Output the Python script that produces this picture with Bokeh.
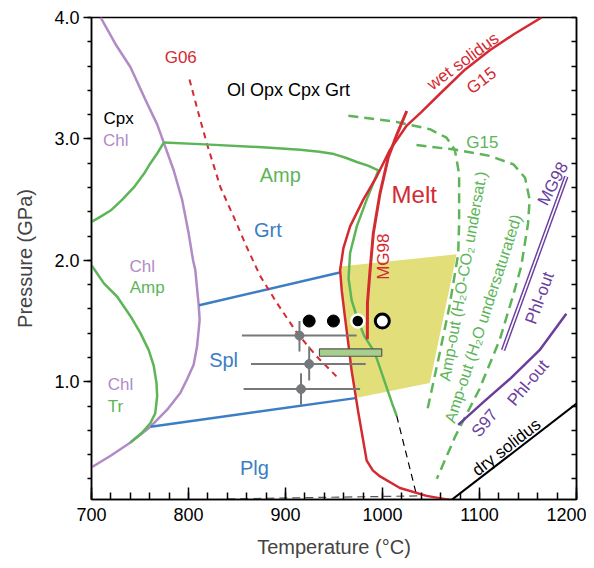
import math
from bokeh.plotting import figure
from bokeh.models import LinearAxis, FixedTicker, Range1d, PrintfTickFormatter
from bokeh.core.properties import value
from bokeh.embed import file_html
from bokeh.resources import INLINE

FONT = "Liberation Sans"
RED = "#d42a31"
GREEN = "#5db558"
BLUE = "#3b7ec3"
LPURP = "#b18bc6"
DPURP = "#6b3e9e"
GRAY = "#76797b"
YELLOW = "#e2df7b"
RECTFILL = "#a6cf8c"

# ---------------- ticks ----------------
x_major = [700, 800, 900, 1000, 1100, 1200]
x_minor = list(range(700, 1201, 20))
y_major = [1.0, 2.0, 3.0, 4.0]
y_minor = [round(0.2 * i, 1) for i in range(1, 21)]

# ---------------- curves (T in C, P in GPa) ----------------
chl_T = [709.4, 724.8, 740.2, 755.7, 767.7, 774.5, 784.8, 793.4, 800.2, 804.7, 807, 810.5, 811.5,
         808.8, 805.3, 798.5, 791.7, 778, 760.8, 740.2, 719.7, 699]
chl_P = [4.0, 3.78, 3.59, 3.32, 3.12, 2.97, 2.74, 2.50, 2.22, 2.0, 1.92, 1.63, 1.51,
         1.29, 1.14, 1.02, 0.91, 0.77, 0.63, 0.50, 0.39, 0.29]

cpxchl_T = [700, 709.4, 719.7, 731.7, 743.6, 753.9, 760.8, 767.7, 774.5]
cpxchl_P = [2.317, 2.36, 2.41, 2.50, 2.60, 2.71, 2.80, 2.88, 2.97]

chltr_T = [700, 712.8, 726.5, 740.2, 750.5, 759, 764.2, 767, 767.7, 765.7, 760.8, 752, 740]
chltr_P = [1.96, 1.81, 1.70, 1.54, 1.40, 1.26, 1.13, 0.99, 0.88, 0.74, 0.66, 0.58, 0.50]

amp_T = [774.5, 817, 880, 915, 935, 950, 962, 973.5, 985, 995.7, 983.7, 973.5, 966.6, 965, 968.2,
         975, 981, 992, 1004, 1010, 1014.6]
amp_P = [2.97, 2.955, 2.93, 2.91, 2.895, 2.875, 2.845, 2.81, 2.78, 2.74, 2.50, 2.28, 2.06, 1.85, 1.67,
         1.50, 1.38, 1.24, 0.96, 0.82, 0.72]

ampdash_T = [1014.6, 1035]
ampdash_P = [0.72, 0.07]

g06_T = [801, 810, 819, 833, 846.5, 860, 874, 891, 912, 932, 953]
g06_P = [3.49, 3.22, 2.96, 2.60, 2.36, 2.11, 1.87, 1.65, 1.40, 1.21, 1.04]

grtspl_T = [811, 956]
grtspl_P = [1.63, 1.90]
splplg_T = [761, 972]
splplg_P = [0.63, 0.865]

wet_T = [1164, 1135, 1110.6, 1085, 1059, 1040, 1025, 1007.7, 994, 980.2, 966.6, 959.7, 956.3,
         958, 961, 965, 968, 972, 975, 980, 983.7, 990, 997.5, 1018, 1045.5, 1071]
wet_P = [4.0, 3.86, 3.73, 3.57, 3.37, 3.22, 3.11, 2.91, 2.69, 2.50, 2.28, 2.10, 1.92,
         1.75, 1.55, 1.30, 1.10, 0.90, 0.75, 0.52, 0.35, 0.27, 0.22, 0.125, 0.06, 0.025]

mg98_T = [1025, 1015, 1006, 997.4, 990.5, 987, 984.5, 984.4]
mg98_P = [3.23, 3.04, 2.85, 2.55, 2.22, 1.90, 1.65, 1.35]

outer_T = [964.8, 1014.6, 1048.8, 1066, 1074.6, 1079, 1079, 1079, 1078, 1069, 1058, 1045.5]
outer_P = [3.19, 3.14, 3.08, 3.01, 2.91, 2.71, 2.50, 2.30, 2.05, 1.62, 1.20, 0.74]

inner_T = [1035, 1076, 1110.6, 1135, 1147, 1151.7, 1150, 1143, 1135, 1121, 1100, 1075, 1056]
inner_P = [2.95, 2.91, 2.86, 2.79, 2.68, 2.50, 2.30, 1.95, 1.72, 1.35, 0.94, 0.55, 0.20]

phl_mg98_T = [1189.5, 1124.3]
phl_mg98_P = [2.69, 1.26]

s97_T = [1078, 1103.7, 1131, 1161.9, 1189.5]
s97_P = [0.645, 0.83, 1.02, 1.26, 1.56]

dry_T = [1071, 1200]
dry_P = [0.025, 0.82]

base_T = [840, 1040]
base_P = [0.035, 0.06]

yellow_T = [956.3, 1076.4, 1048.8, 975, 972, 968, 965, 961, 958]
yellow_P = [1.95, 2.05, 0.99, 0.87, 0.90, 1.10, 1.30, 1.55, 1.75]

# experiments
dots_T = [924.4, 949.4]
dots_P = [1.50, 1.50]
ring_T = [974.5]
ring_P = [1.50]
open_T = [999.8]
open_P = [1.50]

eb_T = [914.4, 924.4, 916.0]
eb_P = [1.38, 1.146, 0.94]
eb_Tmin = [855, 864.4, 856.8]
eb_Tmax = [973.4, 982.7, 976.9]
eb_Pmin = [1.25, 1.01, 0.81]
eb_Pmax = [1.50, 1.29, 1.07]

rect_T = [935, 999.2]
rect_P = [1.21, 1.27]

# ---------------- figure ----------------
p = figure(width=586, height=560, x_range=Range1d(700, 1200), y_range=Range1d(0.03, 4.0),
           output_backend="svg", toolbar_location=None,
           min_border_left=91, min_border_right=10, min_border_top=17, min_border_bottom=60,
           x_axis_label="Temperature (°C)", y_axis_label="Pressure (GPa)")
p.grid.visible = False
p.outline_line_color = "black"
p.outline_line_width = 1.5
p.background_fill_color = "white"
p.border_fill_color = "white"

xa = p.xaxis[0]
xa.ticker = FixedTicker(ticks=x_major, minor_ticks=x_minor)
xa.major_tick_in = 12
xa.major_tick_out = 0
xa.minor_tick_in = 7
xa.minor_tick_out = 0
xa.major_tick_line_width = 1.5
xa.minor_tick_line_width = 1.5
xa.axis_line_width = 1.5
xa.major_label_standoff = 8
xa.major_label_text_font = FONT
xa.major_label_text_font_size = "18px"
xa.major_label_text_color = "black"
xa.axis_label_text_font = FONT
xa.axis_label_text_font_size = "20px"
xa.axis_label_text_font_style = "normal"
xa.axis_label_standoff = 12

ya = p.yaxis[0]
ya.ticker = FixedTicker(ticks=y_major, minor_ticks=y_minor)
ya.formatter = PrintfTickFormatter(format="%.1f")
ya.major_tick_in = 0
ya.major_tick_out = 8
ya.minor_tick_in = 0
ya.minor_tick_out = 4
ya.major_tick_line_width = 1.5
ya.minor_tick_line_width = 1.5
ya.axis_line_width = 1.5
ya.major_label_standoff = 4
ya.major_label_text_font = FONT
ya.major_label_text_font_size = "18px"
ya.major_label_text_color = "black"
ya.axis_label_text_font = FONT
ya.axis_label_text_font_size = "20px"
ya.axis_label_text_font_style = "normal"
ya.axis_label_standoff = 15

# right axis: ticks only (minor ticks, no major ticks -> no labels)
ra = LinearAxis(ticker=FixedTicker(ticks=[], minor_ticks=y_minor))
ra.major_tick_in = 0
ra.major_tick_out = 0
ra.minor_tick_in = 5
ra.minor_tick_out = 0
ra.minor_tick_line_width = 1.5
ra.axis_line_width = 1.5
p.add_layout(ra, "right")

# ---------------- glyphs ----------------
p.patch(yellow_T, yellow_P, fill_color=YELLOW, line_color=None)

p.line(chl_T, chl_P, line_color=LPURP, line_width=2.5, line_join="round")
p.line(cpxchl_T, cpxchl_P, line_color=GREEN, line_width=2.5, line_join="round")
p.line(chltr_T, chltr_P, line_color=GREEN, line_width=2.5, line_join="round")
p.line(grtspl_T, grtspl_P, line_color=BLUE, line_width=2.5)
p.line(splplg_T, splplg_P, line_color=BLUE, line_width=2.5)
p.line(g06_T, g06_P, line_color=RED, line_width=2, line_dash="6 5")
p.line(amp_T, amp_P, line_color=GREEN, line_width=2.5, line_join="round")
p.line(ampdash_T, ampdash_P, line_color="black", line_width=1.2, line_dash="7 5")
p.line(base_T, base_P, line_color="#555555", line_width=1.2, line_dash="8 5")
p.line(outer_T, outer_P, line_color=GREEN, line_width=2.5, line_dash="10 6", line_join="round")
p.line(inner_T, inner_P, line_color=GREEN, line_width=2.5, line_dash="10 6", line_join="round")
p.line(wet_T, wet_P, line_color=RED, line_width=2.5, line_join="round")
p.line(mg98_T, mg98_P, line_color=RED, line_width=3, line_join="round")
p.line(phl_mg98_T, phl_mg98_P, line_color=DPURP, line_width=4.5)
p.line(phl_mg98_T, phl_mg98_P, line_color="white", line_width=1.6)
p.line(s97_T, s97_P, line_color=DPURP, line_width=2.5, line_join="round")
p.line(dry_T, dry_P, line_color="black", line_width=2)

# error bars
p.segment(x0=eb_Tmin, y0=eb_P, x1=eb_Tmax, y1=eb_P, line_color=GRAY, line_width=2)
p.segment(x0=eb_T, y0=eb_Pmin, x1=eb_T, y1=eb_Pmax, line_color=GRAY, line_width=2)
p.scatter(eb_T, eb_P, size=9, fill_color=GRAY, line_color=GRAY)

p.quad(left=[rect_T[0]], right=[rect_T[1]], bottom=[rect_P[0]], top=[rect_P[1]],
       fill_color=RECTFILL, line_color="#555555", line_width=1.2)

p.scatter(dots_T, dots_P, size=12, fill_color="black", line_color="black")
p.scatter(ring_T, ring_P, size=13, fill_color="black", line_color="white", line_width=2.5)
p.scatter(open_T, open_P, size=14, fill_color="white", line_color="black", line_width=3)

# ---------------- labels ----------------
def lab(txt, t, pr, color, size, angle=0.0):
    p.text(x=[t], y=[pr], text=[txt], angle=math.radians(angle), text_align="center",
           text_baseline="middle", text_font=value(FONT), text_font_size=size,
           text_color=color)

lab("G06", 792, 3.67, RED, "17px")
lab("Ol Opx Cpx Grt", 903, 3.40, "black", "18px")
lab("Cpx", 727.9, 3.17, "black", "17px")
lab("Chl", 725, 2.99, LPURP, "17px")
lab("Amp", 894.6, 2.70, GREEN, "20px")
lab("Grt", 881.9, 2.25, BLUE, "20px")
lab("Chl", 752.3, 1.95, LPURP, "17px")
lab("Amp", 757.4, 1.78, GREEN, "17px")
lab("Spl", 836.2, 1.18, BLUE, "20px")
lab("Chl", 730, 0.98, LPURP, "17px")
lab("Tr", 724.8, 0.80, GREEN, "17px")
lab("Plg", 868, 0.29, BLUE, "20px")
lab("Melt", 1032.7, 2.54, RED, "24px")
lab("wet solidus", 1083, 3.64, RED, "17px", 36.5)
lab("G15", 1102, 3.48, RED, "17px", 37)
lab("G15", 1103, 2.97, GREEN, "17px")
lab("MG98", 1000.8, 2.03, RED, "17px", 90)
lab("Amp-out (H\u2082O-CO\u2082 undersat.)", 1083, 1.87, GREEN, "16px", 80)
lab("Amp-out (H\u2082O undersaturated)", 1103.7, 1.52, GREEN, "16px", 72)
lab("MG98", 1175.7, 2.63, DPURP, "17px", 62)
lab("Phl-out", 1162, 1.69, DPURP, "17px", 70)
lab("Phl-out", 1150, 0.99, DPURP, "17px", 50)
lab("S97", 1105.4, 0.66, DPURP, "17px", 50)
lab("dry solidus", 1127.8, 0.46, "black", "17px", 38)

open("out.html", "w").write(file_html(p, INLINE))
